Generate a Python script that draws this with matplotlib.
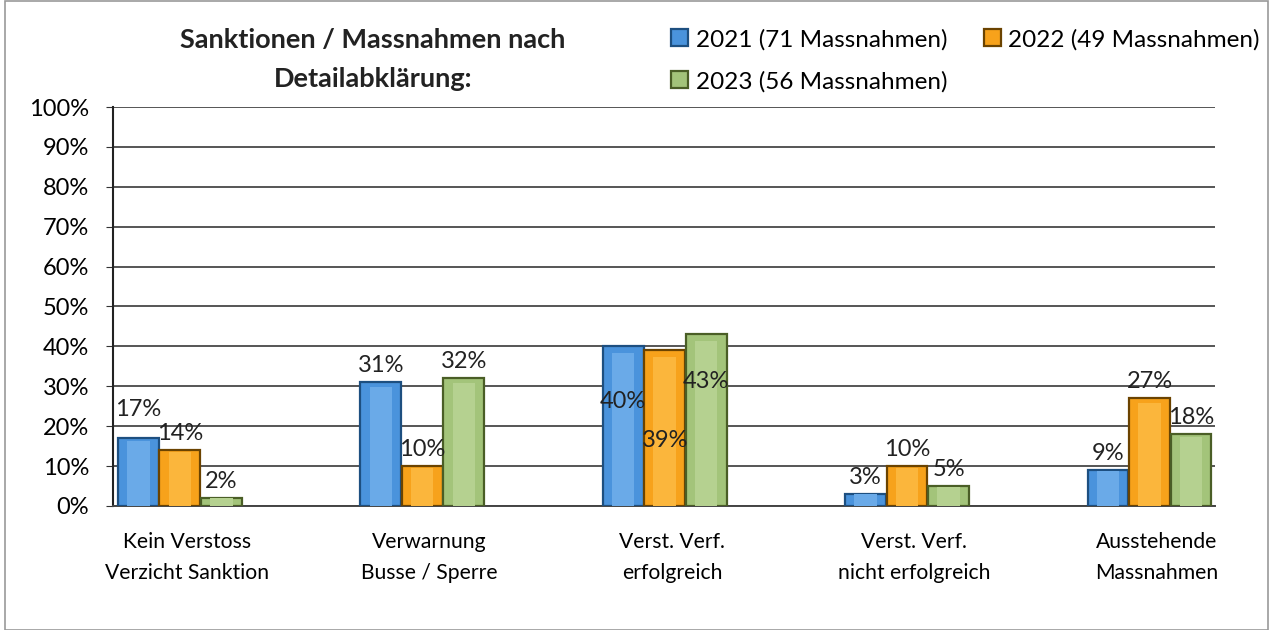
import matplotlib.pyplot as plt
import numpy as np
from matplotlib.patches import Rectangle

categories = ["Kein Verstoss\nVerzicht Sanktion", "Verwarnung\nBusse / Sperre",
              "Verst. Verf.\nerfolgreich", "Verst. Verf.\nnicht erfolgreich",
              "Ausstehende\nMassnahmen"]
series_names = ["2021 (71 Massnahmen)", "2022 (49 Massnahmen)", "2023 (56 Massnahmen)"]
v2021 = [17, 31, 40, 3, 9]
v2022 = [14, 10, 39, 10, 27]
v2023 = [2, 32, 43, 5, 18]

plt.rcParams['font.family'] = ['Lato', 'DejaVu Sans']

fig = plt.figure(figsize=(12.72, 6.3), dpi=100)
ax = fig.add_axes([0.0888, 0.197, 0.866, 0.633])

faces = ['#4a93dc', '#f7a21b', '#a3c47a']
lights = ['#6aaae8', '#fbb63c', '#b5d190']
edges = ['#1d4f80', '#6b4300', '#4a5e26']
x = np.arange(len(categories))
w = 0.168
offs = [-w * 1.02, 0, w * 1.02]

for i, vals in enumerate([v2021, v2022, v2023]):
    ax.bar(x + offs[i], vals, width=w, color=faces[i], edgecolor=edges[i],
           linewidth=1.6, zorder=3, label=series_names[i])
    # lighter inner face for a bevelled look
    ax.bar(x + offs[i], np.array(vals) * 0.96, width=w * 0.55, color=lights[i],
           linewidth=0, zorder=3.5)
    for j, v in enumerate(vals):
        va = 'bottom'
        if j == 2:
            # labels sit inside the tall bars
            dy = {0: -13.7, 1: -22.7, 2: -11.7}[i]
            va = 'center'
        elif j == 0 and i == 0:
            dy = 4.5
        else:
            dy = 1.5
        ax.text(x[j] + offs[i], v + dy, f"{v}%", ha='center', va=va,
                fontsize=17, color='#222222', zorder=4)

ax.set_xlim(-0.276, 4.268)
ax.set_ylim(0, 100)
ax.set_yticks(np.arange(0, 101, 10))
ax.set_yticklabels([f"{t}%" for t in range(0, 101, 10)], fontsize=17)
ax.set_xticks(x + 0.03)
ax.set_xticklabels(categories, fontsize=15.2, linespacing=1.65)
ax.tick_params(axis='x', length=0, pad=19)
ax.tick_params(axis='y', length=5, color='#333333', pad=12)
ax.grid(axis='y', color='#555555', linewidth=1.4, zorder=0)
for s in ['top', 'right']:
    ax.spines[s].set_visible(False)
ax.spines['left'].set_color('#222222')
ax.spines['left'].set_linewidth(1.5)
ax.spines['bottom'].set_color('#444444')
ax.spines['bottom'].set_linewidth(1.4)

fig.text(0.293, 0.905, "Sanktionen / Massnahmen nach\nDetailabklärung:", ha='center',
         va='center', fontsize=19.5, fontweight='bold', linespacing=1.75, color='#222222')

h, l = ax.get_legend_handles_labels()
fig.legend([h[0], h[2], h[1]], [l[0], l[2], l[1]], ncol=2, loc='upper left',
           bbox_to_anchor=(0.524, 0.962), frameon=False, fontsize=17.5,
           handlelength=0.7, handleheight=0.7, handletextpad=0.3,
           columnspacing=1.5, labelspacing=0.85, borderaxespad=0, borderpad=0.2)

fig.patches.append(Rectangle((0.004, 0.0), 0.993, 0.998, transform=fig.transFigure,
                             fill=False, edgecolor='#999999', linewidth=1.2))

fig.savefig("out.png", dpi=100)
